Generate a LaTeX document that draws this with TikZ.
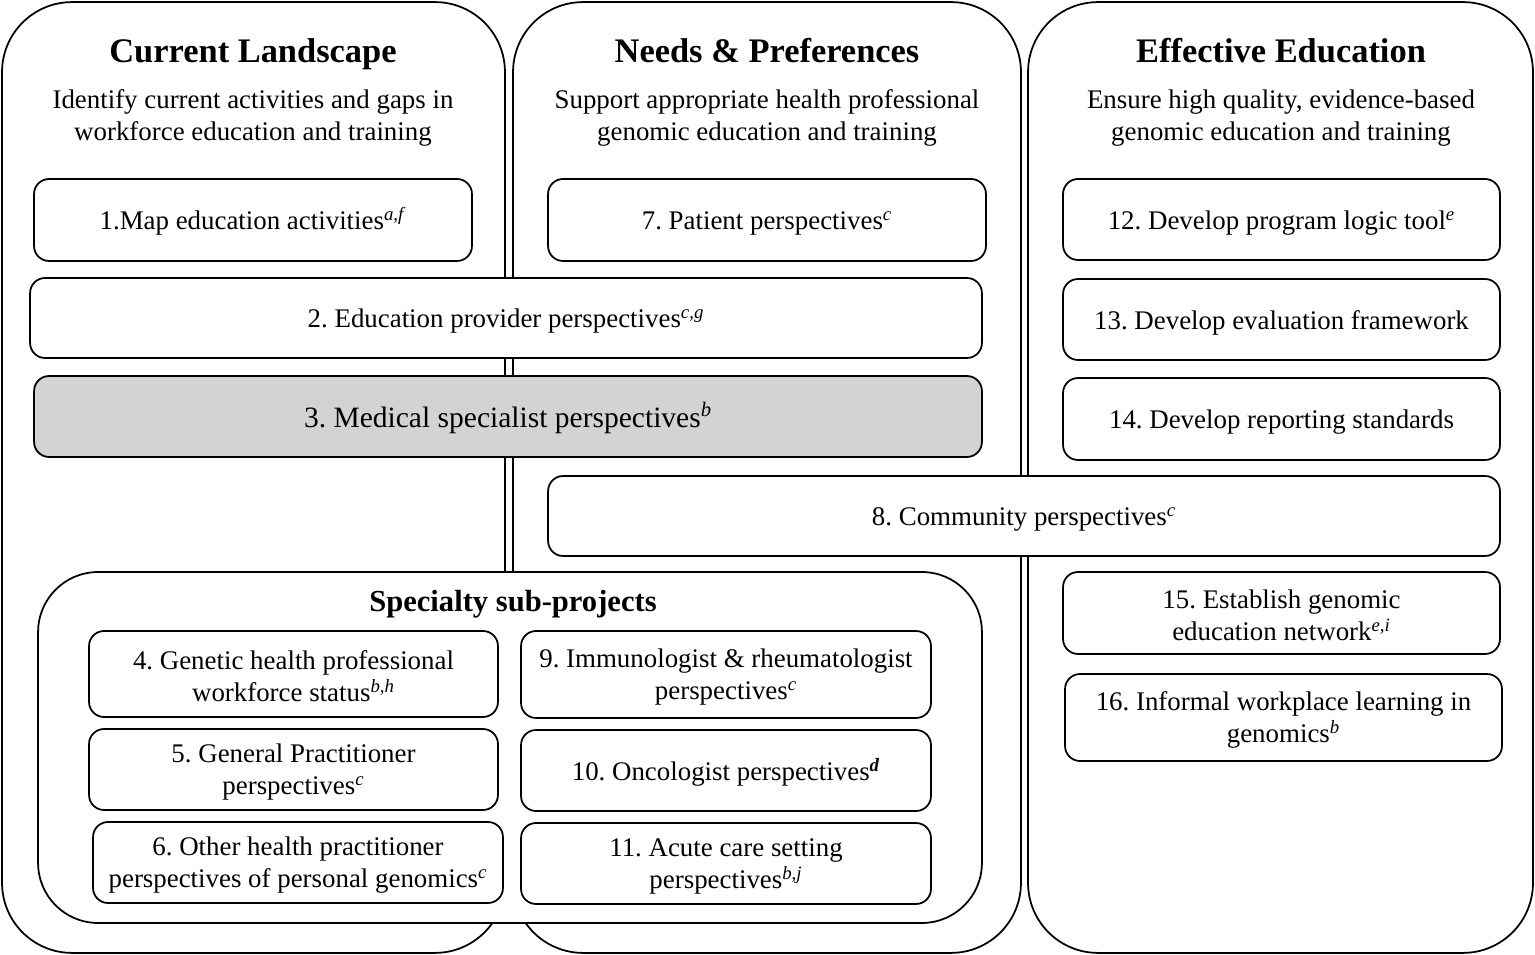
\documentclass[tikz,border=0pt]{standalone}
\usepackage{fontspec}
\setmainfont{Liberation Serif}
\frenchspacing
\newcommand{\fnote}[1]{\textsuperscript{\textit{#1}}}
\newcommand{\topstrut}{\rule{0pt}{0.87em}}

\begin{document}
\begin{tikzpicture}[x=0.02cm,y=-0.02cm]
   \tikzstyle{column}=[draw, line width=1pt, rounded corners=1.4cm, fill=white, inner sep=0pt]
   \tikzstyle{box}=[draw, line width=1pt, rounded corners=0.3cm, fill=white, align=center, inner sep=0pt, font=\fontsize{15.3}{18.2}\selectfont, execute at begin node={\rule{0pt}{0.95em}}]
   \tikzstyle{heading}=[anchor=base, font=\fontsize{19.6}{23}\selectfont\bfseries]
   \tikzstyle{aim}=[align=center, font=\fontsize{15.3}{18.2}\selectfont]

\useasboundingbox (0,0) rectangle (1535,955);

% three columns
\node[column, minimum width=10.06cm, minimum height=19.02cm] (landscape) at (253.5,477.5) {};
\node[column, minimum width=10.16cm, minimum height=19.02cm] (needs) at (767,477.5) {};
\node[column, minimum width=10.10cm, minimum height=19.02cm] (effective) at (1280.5,477.5) {};

\node[heading] (landscapeTitle) at (253,63) {Current Landscape};
\node[heading] (needsTitle) at (767,63) {Needs \& Preferences};
\node[heading] (effectiveTitle) at (1281,63) {Effective Education};

\node[aim] (landscapeAim) at (253,118) {Identify current activities and gaps in\\workforce education and training};
\node[aim] (needsAim) at (767,118) {Support appropriate health professional\\genomic education and training};
\node[aim] (effectiveAim) at (1281,118) {Ensure high quality, evidence-based\\genomic education and training};

% projects
\node[box, minimum width=8.76cm, minimum height=1.64cm] (p1) at (253,220) {1.Map education activities\fnote{a,f}};
\node[box, minimum width=8.76cm, minimum height=1.64cm] (p7) at (767,220) {7. Patient perspectives\fnote{c}};
\node[box, minimum width=8.74cm, minimum height=1.62cm] (p12) at (1281.5,219.5) {12. Develop program logic tool\fnote{e}};
\node[box, minimum width=19.04cm, minimum height=1.6cm] (p2) at (506,318) {2. Education provider perspectives\fnote{c,g}};
\node[box, minimum width=8.74cm, minimum height=1.62cm] (p13) at (1281.5,319.5) {13. Develop evaluation framework};
\node[box, fill={rgb,255:red,211;green,211;blue,211}, minimum width=18.96cm, minimum height=1.62cm, font=\fontsize{16.8}{20}\selectfont] (p3) at (508,416.5) {3. Medical specialist perspectives\fnote{b}};
\node[box, minimum width=8.74cm, minimum height=1.64cm] (p14) at (1281.5,419) {14. Develop reporting standards};
\node[box, minimum width=19.04cm, minimum height=1.6cm] (p8) at (1024,516) {8. Community perspectives\fnote{c}};

% specialty sub-projects
\node[column, rounded corners=1.2cm, minimum width=18.88cm, minimum height=7.02cm] (specialty) at (510,747.5) {};
\node[heading, font=\fontsize{17.4}{21}\selectfont\bfseries] (specialtyTitle) at (513,612) {Specialty sub-projects};
\node[box, minimum width=8.18cm, minimum height=1.72cm] (p4) at (293.5,674) {\topstrut 4. Genetic health professional\\workforce status\fnote{b,h}};
\node[box, minimum width=8.18cm, minimum height=1.62cm] (p5) at (293.5,769.5) {\topstrut 5. General Practitioner\\perspectives\fnote{c}};
\node[box, minimum width=8.2cm, minimum height=1.62cm] (p6) at (298,862.5) {\topstrut 6. Other health practitioner\\perspectives of personal genomics\fnote{c}};
\node[box, minimum width=8.2cm, minimum height=1.74cm] (p9) at (726,674.5) {\topstrut 9. Immunologist \& rheumatologist\\perspectives\fnote{c}};
\node[box, minimum width=8.2cm, minimum height=1.62cm] (p10) at (726,770.5) {10. Oncologist perspectives\fnote{\textbf{d}}};
\node[box, minimum width=8.2cm, minimum height=1.62cm] (p11) at (726,863.5) {\topstrut 11. Acute care setting\\perspectives\fnote{b,j}};

\node[box, minimum width=8.74cm, minimum height=1.64cm] (p15) at (1281.5,613) {\topstrut 15. Establish genomic\\education network\fnote{e,i}};
\node[box, minimum width=8.74cm, minimum height=1.74cm] (p16) at (1283.5,717.5) {\topstrut 16. Informal workplace learning in\\genomics\fnote{b}};

\end{tikzpicture}
\end{document}
